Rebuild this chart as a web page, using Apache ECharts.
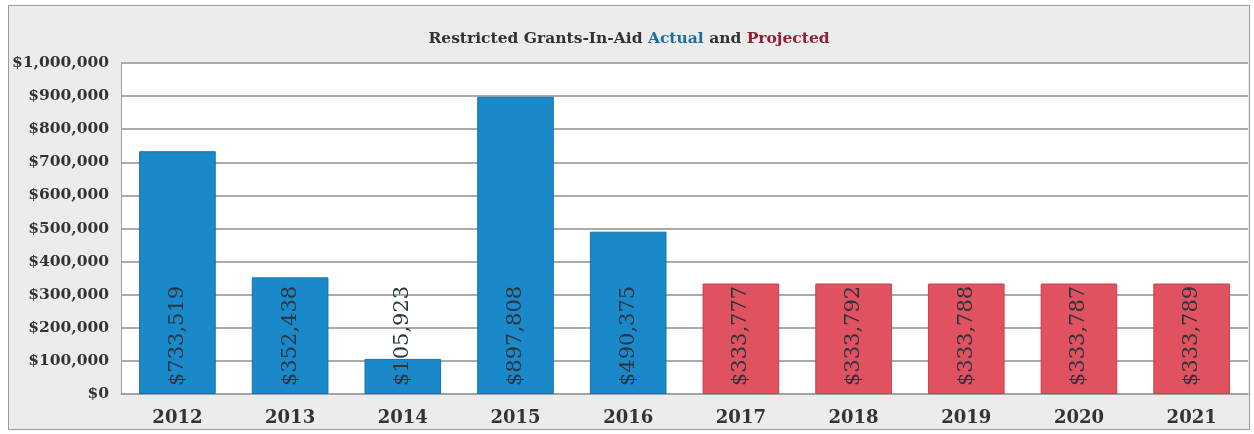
<!DOCTYPE html>
<html>
<head>
<meta charset="utf-8">
<script src="https://cdn.jsdelivr.net/npm/echarts@6/dist/echarts.min.js"></script>
<style>
  html, body { margin: 0; padding: 0; background: #ffffff; }
  #frame { position: absolute; left: 8px; top: 5px; width: 1240px; height: 423px;
           border: 1px solid #9a9a9a; background: #ececec; }
  #chart { width: 1240px; height: 423px; }
</style>
</head>
<body>
<div id="frame"><div id="chart"></div></div>
<script>
const categories = ['2012', '2013', '2014', '2015', '2016', '2017', '2018', '2019', '2020', '2021'];
const values = [733519, 352438, 105923, 897808, 490375, 333777, 333792, 333788, 333787, 333789];
const actualYears = ['2012', '2013', '2014', '2015', '2016'];
const yTicks = [0, 100000, 200000, 300000, 400000, 500000, 600000, 700000, 800000, 900000, 1000000];

const money = v => '$' + Math.round(v).toLocaleString('en-US');

const chart = echarts.init(document.getElementById('chart'), null, { renderer: 'canvas' });
chart.setOption({
  animation: false,
  backgroundColor: 'transparent',
  title: {
    text: '{a|Restricted Grants-In-Aid }{b|Actual}{a| and }{c|Projected}',
    left: 'center',
    top: 20,
    textStyle: {
      rich: {
        a: { fontFamily: 'DejaVu Serif', fontWeight: 'bold', fontSize: 15.5, color: '#333333' },
        b: { fontFamily: 'DejaVu Serif', fontWeight: 'bold', fontSize: 15.5, color: '#1f6f9e' },
        c: { fontFamily: 'DejaVu Serif', fontWeight: 'bold', fontSize: 15.5, color: '#8e2232' }
      }
    }
  },
  grid: {
    left: 111, right: 1, top: 57, bottom: 35,
    show: true, backgroundColor: '#ffffff', borderWidth: 0
  },
  xAxis: {
    type: 'category',
    data: categories,
    axisLine: { show: true, lineStyle: { color: '#a0a0a0', width: 1.5 } },
    axisTick: { show: false },
    axisLabel: {
      margin: 15,
      fontFamily: 'DejaVu Serif', fontWeight: 'bold', fontSize: 18, color: '#333333'
    }
  },
  yAxis: {
    type: 'value',
    min: yTicks[0],
    max: yTicks[yTicks.length - 1],
    interval: yTicks[1] - yTicks[0],
    axisLine: { show: true, lineStyle: { color: '#a0a0a0', width: 1 } },
    axisTick: { show: false },
    splitLine: { show: true, lineStyle: { color: '#aaaaaa', width: 1.8 } },
    axisLabel: {
      margin: 12,
      fontFamily: 'DejaVu Serif', fontWeight: 'bold', fontSize: 15.5, color: '#333333',
      formatter: v => money(v)
    }
  },
  series: [{
    type: 'bar',
    barWidth: '68%',
    data: values.map((v, i) => {
      const actual = actualYears.includes(categories[i]);
      return {
        value: v,
        itemStyle: {
          color: actual ? '#1a89c9' : '#e0525f',
          borderColor: actual ? '#1672ab' : '#c8404d',
          borderWidth: 1
        }
      };
    }),
    label: {
      show: true,
      position: 'insideBottom',
      distance: 8,
      rotate: 90,
      align: 'left',
      verticalAlign: 'middle',
      fontFamily: 'DejaVu Serif',
      fontSize: 21,
      color: '#2b3540',
      formatter: p => money(p.value)
    }
  }]
});
</script>
</body>
</html>
